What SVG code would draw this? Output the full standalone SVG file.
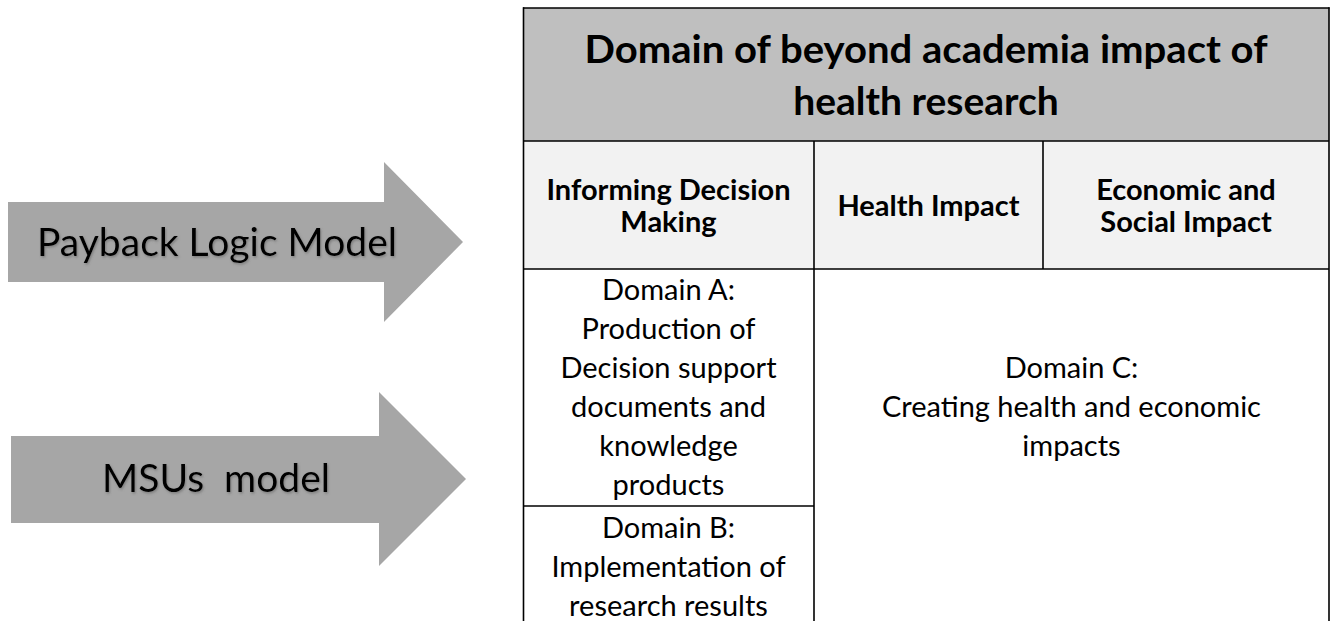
<svg xmlns="http://www.w3.org/2000/svg" width="1332" height="621" viewBox="0 0 1332 621">
<defs>
<style>
.arrow{fill:#A6A6A6;}
.atext{font-family:Lato,"Open Sans","Liberation Sans",sans-serif;font-size:39px;fill:#000;text-anchor:start;}
.htext{font-family:Lato,"Open Sans","Liberation Sans",sans-serif;font-size:39px;font-weight:bold;fill:#000;text-anchor:middle;}
.btext{font-family:Lato,"Open Sans","Liberation Sans",sans-serif;font-size:29px;font-weight:bold;fill:#000;text-anchor:middle;}
.ctext{font-family:Lato,"Open Sans","Liberation Sans",sans-serif;font-size:29px;fill:#000;text-anchor:middle;}
.grid{stroke:#000;stroke-width:1.6;fill:none;}
</style>
<filter id="shadow" x="-5%" y="-20%" width="110%" height="140%">
<feDropShadow dx="1" dy="1.5" stdDeviation="1" flood-color="#555" flood-opacity="0.5"/>
</filter>
</defs>
<rect x="0" y="0" width="1332" height="621" fill="#fff"/>

<g id="arrow-payback">
<polygon class="arrow" points="8,202 384,202 384,162 463,242 384,322 384,282 8,282"/>
<text class="atext" x="37" y="256" textLength="360" lengthAdjust="spacingAndGlyphs" filter="url(#shadow)">Payback Logic Model</text>
</g>

<g id="arrow-msus">
<polygon class="arrow" points="11,436 379,436 379,392 466,479 379,566 379,523 11,523"/>
<text class="atext" x="102" y="492" textLength="228" lengthAdjust="spacingAndGlyphs" xml:space="preserve" filter="url(#shadow)">MSUs  model</text>
</g>

<g id="table-header">
<rect x="523" y="8" width="806" height="133" fill="#BFBFBF"/>
<text class="htext" x="926" y="63" textLength="683" lengthAdjust="spacingAndGlyphs">Domain of beyond academia impact of</text>
<text class="htext" x="926" y="115">health research</text>
</g>

<g id="cell-informing">
<rect x="523" y="141" width="291" height="128" fill="#F2F2F2"/>
<text class="btext" x="668.5" y="200">Informing Decision</text>
<text class="btext" x="668.5" y="232">Making</text>
</g>

<g id="cell-health">
<rect x="814" y="141" width="229" height="128" fill="#F2F2F2"/>
<text class="btext" x="928.5" y="216">Health Impact</text>
</g>

<g id="cell-economic">
<rect x="1043" y="141" width="286" height="128" fill="#F2F2F2"/>
<text class="btext" x="1186" y="200">Economic and</text>
<text class="btext" x="1186" y="232">Social Impact</text>
</g>

<g id="cell-domainA">
<text class="ctext" x="668.5" y="300">Domain A:</text>
<text class="ctext" x="668.5" y="339">Production of</text>
<text class="ctext" x="668.5" y="378">Decision support</text>
<text class="ctext" x="668.5" y="417">documents and</text>
<text class="ctext" x="668.5" y="456">knowledge</text>
<text class="ctext" x="668.5" y="495">products</text>
</g>

<g id="cell-domainB">
<text class="ctext" x="668.5" y="538">Domain B:</text>
<text class="ctext" x="668.5" y="577">Implementation of</text>
<text class="ctext" x="668.5" y="616">research results</text>
</g>

<g id="cell-domainC">
<text class="ctext" x="1071.5" y="378">Domain C:</text>
<text class="ctext" x="1071.5" y="417">Creating health and economic</text>
<text class="ctext" x="1071.5" y="456">impacts</text>
</g>

<g id="connectors" class="grid">
<line x1="523" y1="8" x2="1329.5" y2="8"/>
<line x1="523.5" y1="7.2" x2="523.5" y2="621"/>
<line x1="1329" y1="7.2" x2="1329" y2="621"/>
<line x1="523" y1="141" x2="1329" y2="141"/>
<line x1="523" y1="269" x2="1329" y2="269"/>
<line x1="814" y1="141" x2="814" y2="621"/>
<line x1="1043" y1="141" x2="1043" y2="269"/>
<line x1="523" y1="506" x2="814" y2="506"/>
</g>
</svg>
